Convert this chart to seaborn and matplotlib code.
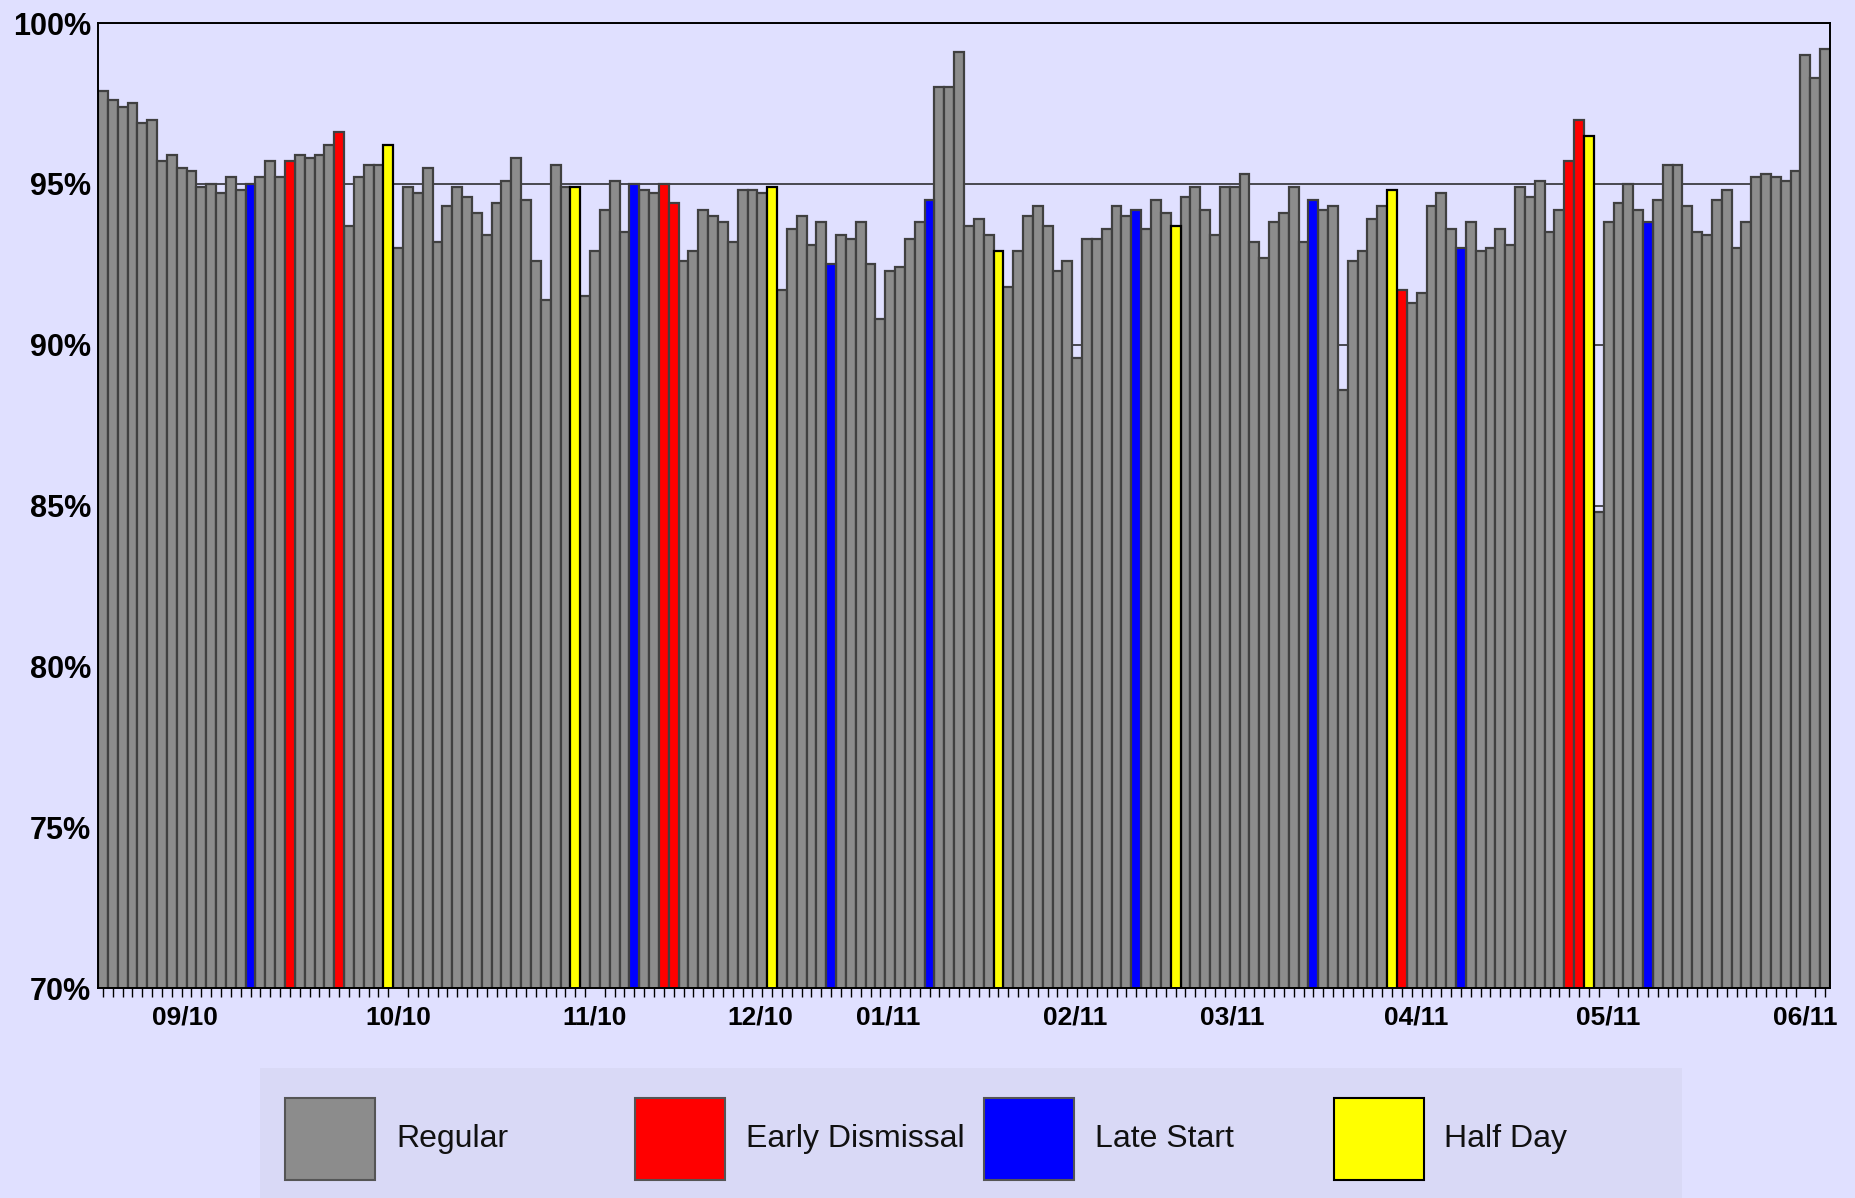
import numpy as np
import pandas as pd
import seaborn as sns
import matplotlib.pyplot as plt
from matplotlib.patches import Rectangle

# daily attendance rate (%), one value per school day
attendance = [
    97.9, 97.6, 97.4, 97.5, 96.9, 97.0, 95.7, 95.9, 95.5, 95.4,
    94.9, 95.0, 94.7, 95.2, 94.8, 95.0, 95.2, 95.7, 95.2, 95.7,
    95.9, 95.8, 95.9, 96.2, 96.6, 93.7, 95.2, 95.6, 95.6, 96.2,
    93.0, 94.9, 94.7, 95.5, 93.2, 94.3, 94.9, 94.6, 94.1, 93.4,
    94.4, 95.1, 95.8, 94.5, 92.6, 91.4, 95.6, 94.9, 94.9, 91.5,
    92.9, 94.2, 95.1, 93.5, 95.0, 94.8, 94.7, 95.0, 94.4, 92.6,
    92.9, 94.2, 94.0, 93.8, 93.2, 94.8, 94.8, 94.7, 94.9, 91.7,
    93.6, 94.0, 93.1, 93.8, 92.5, 93.4, 93.3, 93.8, 92.5, 90.8,
    92.3, 92.4, 93.3, 93.8, 94.5, 98.0, 98.0, 99.1, 93.7, 93.9,
    93.4, 92.9, 91.8, 92.9, 94.0, 94.3, 93.7, 92.3, 92.6, 89.6,
    93.3, 93.3, 93.6, 94.3, 94.0, 94.2, 93.6, 94.5, 94.1, 93.7,
    94.6, 94.9, 94.2, 93.4, 94.9, 94.9, 95.3, 93.2, 92.7, 93.8,
    94.1, 94.9, 93.2, 94.5, 94.2, 94.3, 88.6, 92.6, 92.9, 93.9,
    94.3, 94.8, 91.7, 91.3, 91.6, 94.3, 94.7, 93.6, 93.0, 93.8,
    92.9, 93.0, 93.6, 93.1, 94.9, 94.6, 95.1, 93.5, 94.2, 95.7,
    97.0, 96.5, 84.8, 93.8, 94.4, 95.0, 94.2, 93.8, 94.5, 95.6,
    95.6, 94.3, 93.5, 93.4, 94.5, 94.8, 93.0, 93.8, 95.2, 95.3,
    95.2, 95.1, 95.4, 99.0, 98.3, 99.2,
]

# special days (1-based school day numbers)
early_dismissal_days = [20, 25, 58, 59, 133, 150, 151]
late_start_days = [16, 55, 75, 85, 106, 124, 139, 158]
half_days = [30, 49, 69, 92, 110, 132, 152]

day_types = ['Regular', 'Early Dismissal', 'Late Start', 'Half Day']
type_colors = ['#8C8C8C', '#FF0000', '#0000FF', '#FFFF00']

month_labels = ['09/10', '10/10', '11/10', '12/10', '01/11',
                '02/11', '03/11', '04/11', '05/11', '06/11']
month_label_day = [8.3, 30, 50, 66.8, 79.8, 98.8, 114.8, 133.5, 153, 173]

BG = '#E0E0FF'
W, H = 1855, 1198


def build_frame():
    n = len(attendance)
    kind = ['Regular'] * n
    for d in early_dismissal_days:
        kind[d - 1] = 'Early Dismissal'
    for d in late_start_days:
        kind[d - 1] = 'Late Start'
    for d in half_days:
        kind[d - 1] = 'Half Day'
    return pd.DataFrame({'day': np.arange(n), 'rate': attendance, 'type': kind})


def main():
    sns.set_theme(style='white')
    plt.rcParams['font.family'] = ['Liberation Sans', 'DejaVu Sans']

    df = build_frame()
    n = len(df)

    fig = plt.figure(figsize=(W / 100, H / 100), dpi=100, facecolor=BG)
    ax = fig.add_axes([98 / W, 1 - 988 / H, (1830 - 98) / W, (988 - 23) / H])
    ax.set_facecolor(BG)

    sns.barplot(data=df, x='day', y='rate', hue='type', hue_order=day_types,
                palette=dict(zip(day_types, type_colors)), saturation=1,
                dodge=False, width=1.0, edgecolor='#404040', linewidth=1.6,
                errorbar=None, legend=False, ax=ax, zorder=3)

    # half day bars get a black outline
    for bar in ax.patches:
        if tuple(bar.get_facecolor()[:3]) == (1.0, 1.0, 0.0):
            bar.set_edgecolor('black')

    ax.set_xlim(-0.5, n - 0.5)
    ax.set_ylim(70, 100)
    ax.set_yticks(range(70, 101, 5))
    ax.set_yticklabels([f'{v}%' for v in range(70, 101, 5)])
    # month labels carry no tick of their own, every day has a small tick
    ax.set_xticks(month_label_day)
    ax.set_xticklabels(month_labels)
    ax.set_xticks(np.arange(n), minor=True)
    ax.set_xlabel('')
    ax.set_ylabel('')

    ax.yaxis.grid(True, color='#202020', linewidth=1.1)
    ax.set_axisbelow(True)
    for s in ax.spines.values():
        s.set_color('black')
        s.set_linewidth(1.4)
        s.set_zorder(5)

    ax.tick_params(axis='x', which='minor', bottom=True, length=6.5, width=1,
                   color='black', direction='out')
    ax.tick_params(axis='x', which='major', bottom=True, length=0,
                   pad=6 + 6.5, labelsize=19)
    ax.tick_params(axis='y', left=False, length=0, pad=5, labelsize=22)
    for lab in ax.get_xticklabels() + ax.get_yticklabels():
        lab.set_fontweight('bold')
        lab.set_color('black')

    # legend strip at the bottom
    fig.patches.append(Rectangle((260 / W, 0), (1682 - 260) / W, (1198 - 1068) / H,
                                 transform=fig.transFigure, facecolor='#D9D9F6',
                                 edgecolor='none', zorder=0))
    for k, (lab, col) in enumerate(zip(day_types, type_colors)):
        x0 = 285 + 349.5 * k
        edge = 'black' if lab == 'Half Day' else '#555555'
        fig.patches.append(Rectangle((x0 / W, 1 - 1180 / H), 90 / W, 82 / H,
                                     transform=fig.transFigure, facecolor=col,
                                     edgecolor=edge, linewidth=1.5, zorder=1))
        fig.text((x0 + 111) / W, 1 - 1139 / H, lab, fontsize=23,
                 va='center', ha='left', color='#111111')

    fig.savefig('out.png', dpi=100, facecolor=BG)
    plt.close(fig)


if __name__ == '__main__':
    main()
